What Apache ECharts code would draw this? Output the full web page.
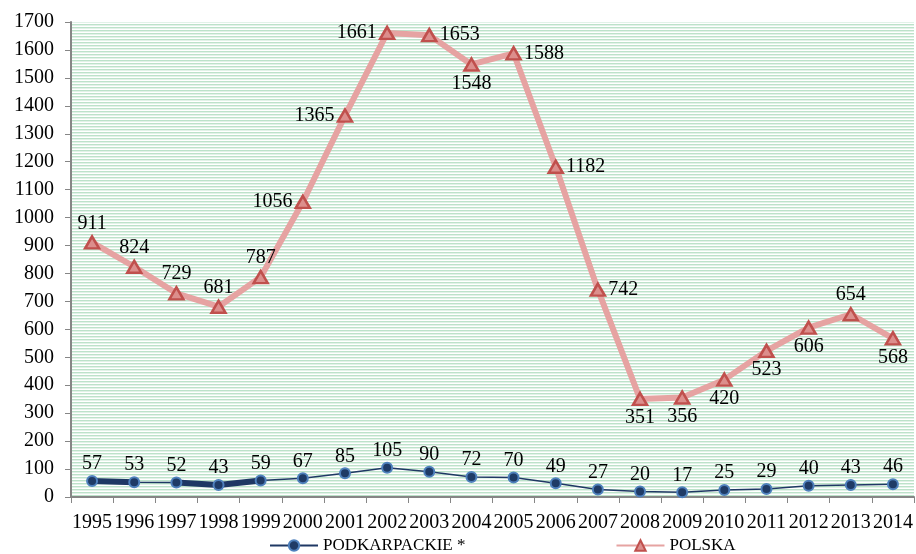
<!DOCTYPE html>
<html>
<head>
<meta charset="utf-8">
<script src="https://cdn.jsdelivr.net/npm/echarts@6/dist/echarts.min.js"></script>
<style>
  html, body { margin: 0; padding: 0; background: #fff; }
  #chart { width: 916px; height: 554px; }
</style>
</head>
<body>
<div id="chart"></div>
<script>
// --- data ---
var years = ['1995', '1996', '1997', '1998', '1999', '2000', '2001', '2002', '2003', '2004',
             '2005', '2006', '2007', '2008', '2009', '2010', '2011', '2012', '2013', '2014'];
var podkarpackie = [57, 53, 52, 43, 59, 67, 85, 105, 90, 72, 70, 49, 27, 20, 17, 25, 29, 40, 43, 46];
var polska = [911, 824, 729, 681, 787, 1056, 1365, 1661, 1653, 1548, 1588, 1182, 742, 351, 356, 420, 523, 606, 654, 568];
var polskaLabelPos = ['top', 'top', 'top', 'top', 'top', 'left', 'left', 'left', 'right', 'bottom',
                      'right', 'right', 'right', 'bottom', 'bottom', 'bottom', 'bottom', 'bottom', 'top', 'bottom'];
// segments of the regional line that are drawn bold in the original
var boldSegments = [[0, 1], [2, 4]];

var FONT = 'Liberation Serif';
var FS = 20;

// striped plot background
function stripes() {
  var c = document.createElement('canvas');
  c.width = 4; c.height = 3;
  var ctx = c.getContext('2d');
  ctx.fillStyle = '#ffffff';
  ctx.fillRect(0, 0, 4, 3);
  ctx.fillStyle = '#bde2ca';
  ctx.fillRect(0, 0, 4, 1);
  ctx.fillStyle = '#e2f2e8';
  ctx.fillRect(0, 1, 4, 1);
  return c;
}

function segmentData(seg) {
  return podkarpackie.map(function (v, i) {
    return (i >= seg[0] && i <= seg[1]) ? v : '-';
  });
}

var chart = echarts.init(document.getElementById('chart'));

var series = [];
boldSegments.forEach(function (seg, k) {
  series.push({
    name: 'bold' + k,
    type: 'line',
    data: segmentData(seg),
    symbol: 'none',
    lineStyle: { color: '#1f3864', width: 6 },
    silent: true,
    z: 2
  });
});

series.push({
  name: 'PODKARPACKIE *',
  type: 'line',
  data: podkarpackie,
  symbol: 'circle',
  symbolSize: 10,
  itemStyle: { color: '#1f3b66', borderColor: '#4f81bd', borderWidth: 2 },
  lineStyle: { color: '#1f3864', width: 1.5 },
  label: { show: true, position: 'top', fontFamily: FONT, fontSize: FS, color: '#000', distance: 1 },
  z: 4
});

series.push({
  name: 'POLSKA',
  type: 'line',
  data: polska.map(function (v, i) {
    return { value: v, label: { position: polskaLabelPos[i] } };
  }),
  symbol: 'triangle',
  symbolSize: [14, 12],
  itemStyle: { color: '#dc8e8c', borderColor: '#c0504d', borderWidth: 2.5 },
  lineStyle: { color: '#e6a3a2', width: 6 },
  label: { show: true, fontFamily: FONT, fontSize: FS, color: '#000', distance: 2 },
  z: 3
});

chart.setOption({
  animation: false,
  backgroundColor: '#fff',
  grid: {
    left: 71, right: 2, top: 22, bottom: 57,
    show: true,
    borderWidth: 0,
    backgroundColor: { image: stripes(), repeat: 'repeat' }
  },
  legend: {
    data: ['PODKARPACKIE *', 'POLSKA'],
    left: 269,
    bottom: 0,
    padding: 0,
    itemWidth: 48,
    itemHeight: 13,
    itemGap: 150,
    textStyle: { fontFamily: FONT, fontSize: 17, color: '#000' }
  },
  xAxis: {
    type: 'category',
    data: years,
    boundaryGap: true,
    axisLine: { lineStyle: { color: '#868686', width: 2 } },
    axisTick: { show: true, length: 6, lineStyle: { color: '#868686', width: 1 } },
    axisLabel: { fontFamily: FONT, fontSize: FS, color: '#000', margin: 16, interval: 0 }
  },
  yAxis: {
    type: 'value',
    min: 0,
    max: 1700,
    interval: 100,
    axisLine: { show: true, lineStyle: { color: '#868686', width: 2 } },
    axisTick: { show: true, length: 6, lineStyle: { color: '#868686', width: 1 } },
    splitLine: { show: false },
    axisLabel: {
      fontFamily: FONT, fontSize: FS, color: '#000', margin: 17,
      formatter: function (v) { return String(v); }
    }
  },
  series: series
});
</script>
</body>
</html>
